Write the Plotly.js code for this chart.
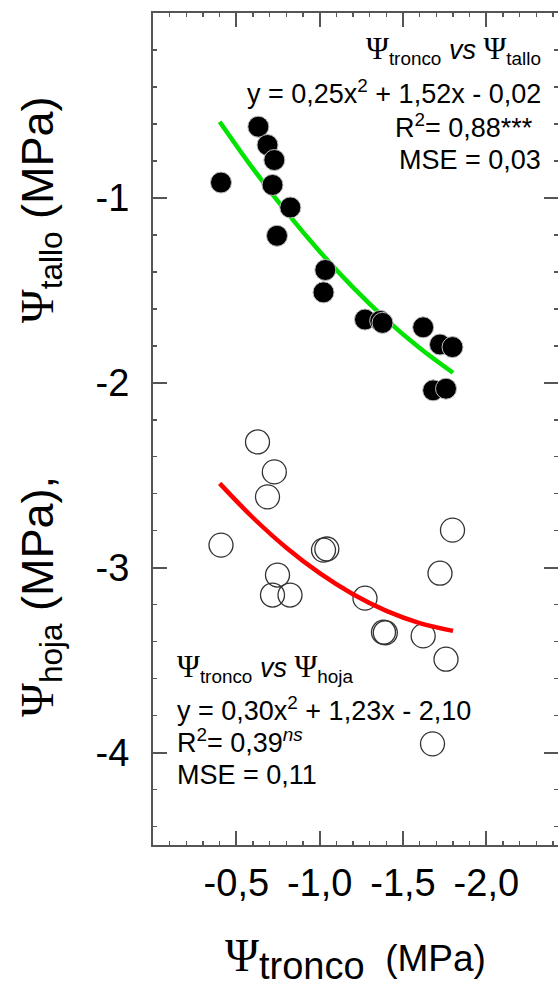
<!DOCTYPE html>
<html>
<head>
<meta charset="utf-8">
<script src="https://cdn.plot.ly/plotly-3.0.1.min.js"></script>
<style>html,body{margin:0;padding:0;background:#fff;}</style>
</head>
<body>
<div id="chart" style="width:558px;height:987px;"></div>
<script>
// Ψ tronco vs Ψ tallo (solid points)
const talloX = [-0.408, -0.632, -0.687, -0.728, -0.717, -0.824, -0.744, -1.034, -1.023, -1.272, -1.363, -1.377, -1.621, -1.722, -1.797, -1.681, -1.758];
const talloY = [-0.917, -0.615, -0.714, -0.795, -0.930, -1.052, -1.205, -1.390, -1.511, -1.658, -1.665, -1.676, -1.700, -1.793, -1.807, -2.041, -2.032];
// Ψ tronco vs Ψ hoja (open points)
const hojaX = [-0.627, -0.728, -0.687, -0.408, -1.023, -1.043, -1.797, -0.747, -0.717, -0.822, -1.272, -1.722, -1.383, -1.394, -1.621, -1.758, -1.677];
const hojaY = [-2.320, -2.482, -2.617, -2.878, -2.905, -2.899, -2.797, -3.040, -3.148, -3.148, -3.165, -3.030, -3.349, -3.352, -3.369, -3.495, -3.953];
// fitted curves
const fitX = [-0.4, -0.6, -0.8, -1.0, -1.2, -1.4, -1.6, -1.8];
const fitTalloY = [-0.588, -0.842, -1.076, -1.290, -1.484, -1.658, -1.812, -1.946];
const fitHojaY = [-2.544, -2.730, -2.892, -3.030, -3.144, -3.234, -3.300, -3.342];
// tick labels
const xTickVals = [-0.5, -1.0, -1.5, -2.0];
const xTickText = ["-0,5", "-1,0", "-1,5", "-2,0"];
const yTickVals = [-1, -2, -3, -4];
const yTickText = ["-1", "-2", "-3", "-4"];

const SERIF = "font-family:'Liberation Serif','Times New Roman',serif;";
const PSI_X = '<span style="' + SERIF + 'font-size:46px;">Ψ</span>';
const PSI_Y = '<span style="' + SERIF + 'font-size:46px;">Ψ</span>';
const PSI_A = '<span style="' + SERIF + 'font-size:31px;">Ψ</span>';

const axisColor = '#555';
const xRange = [0, -2.43];

const traces = [
  {x: fitX, y: fitTalloY, mode: 'lines', line: {color: '#00e400', width: 4.5, shape: 'spline'}, hoverinfo: 'skip', showlegend: false},
  {x: talloX, y: talloY, mode: 'markers', marker: {symbol: 'circle', size: 21, color: '#000', line: {color: '#bbb', width: 1}}, showlegend: false},
  {x: hojaX, y: hojaY, mode: 'markers', marker: {symbol: 'circle-open', size: 24, color: '#333', line: {color: '#333', width: 1.3}}, showlegend: false},
  {x: fitX, y: fitHojaY, mode: 'lines', line: {color: '#ff0000', width: 4.5, shape: 'spline'}, hoverinfo: 'skip', showlegend: false}
];

function ann(text, x, y, xanchor) {
  return {text: text, xref: 'paper', yref: 'paper', x: x, y: y, xanchor: xanchor, yanchor: 'middle',
          showarrow: false, align: xanchor, font: {size: 27, color: '#000'}};
}
function yTitle(text, y) {
  return {text: text, xref: 'paper', yref: 'paper', x: -0.279, y: y, xanchor: 'center', yanchor: 'middle',
          textangle: -90, showarrow: false, font: {size: 45, color: '#000'}};
}

const layout = {
  width: 558, height: 987,
  margin: {l: 153, r: 0, t: 13, b: 142},
  paper_bgcolor: '#fff', plot_bgcolor: '#fff',
  font: {family: "'Liberation Sans', Arial, sans-serif", color: '#000'},
  showlegend: false,
  xaxis: {
    range: xRange, tickmode: 'array', tickvals: xTickVals, ticktext: xTickText,
    ticks: 'inside', ticklen: 14, tickwidth: 2, tickcolor: axisColor,
    showline: true, linecolor: axisColor, linewidth: 2, mirror: 'allticks',
    showgrid: false, zeroline: false,
    minor: {dtick: 0.1, tick0: 0, ticks: 'inside', ticklen: 4, tickwidth: 1.5, tickcolor: axisColor, showgrid: false},
    tickfont: {size: 38, color: '#000'}, ticklabelstandoff: 3,
    title: {text: PSI_X + '<sub><span style="font-size:38px;">tronco</span></sub>\u00A0\u00A0(MPa)', font: {size: 37, color: '#000'}, standoff: 48}
  },
  yaxis: {
    range: [-4.5, 0], tickmode: 'array', tickvals: yTickVals, ticktext: yTickText,
    ticks: 'inside', ticklen: 14, tickwidth: 2, tickcolor: axisColor,
    showline: true, linecolor: axisColor, linewidth: 2, mirror: 'allticks',
    showgrid: false, zeroline: false,
    minor: {dtick: 0.2, tick0: 0, ticks: 'inside', ticklen: 4, tickwidth: 1.5, tickcolor: axisColor, showgrid: false},
    tickfont: {size: 38, color: '#000'}, ticklabelstandoff: 14,
    title: {text: ''}
  },
  annotations: [
    yTitle(PSI_Y + '<sub>tallo</sub> (MPa)', 0.763),
    yTitle(PSI_Y + '<sub>hoja</sub> (MPa),', 0.298),
    ann(PSI_A + '<sub>tronco</sub> <i>vs</i> ' + PSI_A + '<sub>tallo</sub>', 0.963, 0.956, 'right'),
    ann('y = 0,25x<sup>2</sup> + 1,52x - 0,02', 0.963, 0.905, 'right'),
    ann('R<sup>2</sup>= 0,88***', 0.944, 0.864, 'right'),
    ann('MSE = 0,03', 0.963, 0.823, 'right'),
    ann(PSI_A + '<sub>tronco</sub> <i>vs</i> ' + PSI_A + '<sub>hoja</sub>', 0.054, 0.213, 'left'),
    ann('y = 0,30x<sup>2</sup> + 1,23x - 2,10', 0.054, 0.164, 'left'),
    ann('R<sup>2</sup>= 0,39<sup><i>ns</i></sup>', 0.054, 0.125, 'left'),
    ann('MSE = 0,11', 0.054, 0.084, 'left')
  ]
};

Plotly.newPlot('chart', traces, layout, {displayModeBar: false, staticPlot: true});
</script>
</body>
</html>
